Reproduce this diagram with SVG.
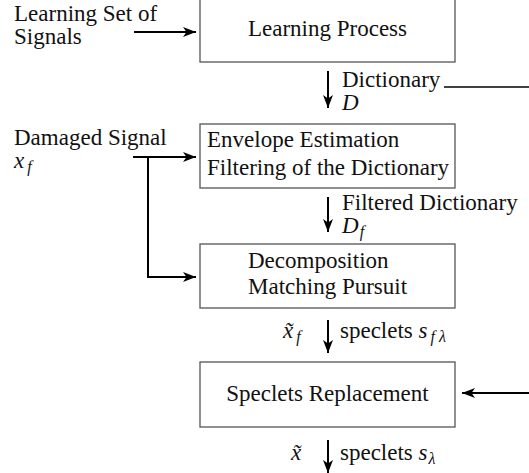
<svg xmlns="http://www.w3.org/2000/svg" width="529" height="473" viewBox="0 0 529 473">
<style>
text{font-family:"Liberation Serif","DejaVu Serif",serif;font-size:23px;fill:#111}
.it{font-style:italic}
.sub{font-size:16px;font-style:italic}
.box{fill:#fff;stroke:#555;stroke-width:1.3}
.ln{fill:none;stroke:#000;stroke-width:2}
</style>
<defs>
<marker id="ah" markerUnits="userSpaceOnUse" markerWidth="14" markerHeight="10" refX="13" refY="5" orient="auto">
<path d="M0,0 L13,5 L0,10 L3.5,5 Z" fill="#000"/>
</marker>
</defs>
<rect width="529" height="473" fill="#fff"/>
<g id="connectors">
<line class="ln" x1="134" y1="32" x2="196" y2="32" marker-end="url(#ah)"/>
<line class="ln" x1="328" y1="71" x2="328" y2="108" marker-end="url(#ah)"/>
<line x1="444" y1="87" x2="529" y2="87" stroke="#000" stroke-width="1.6"/>
<line class="ln" x1="133" y1="157" x2="196" y2="157" marker-end="url(#ah)"/>
<polyline class="ln" points="148,157 148,277 196,277" marker-end="url(#ah)"/>
<line class="ln" x1="328" y1="197" x2="328" y2="232" marker-end="url(#ah)"/>
<line class="ln" x1="328" y1="320" x2="328" y2="353" marker-end="url(#ah)"/>
<line class="ln" x1="529" y1="393" x2="462" y2="393" marker-end="url(#ah)"/>
<line class="ln" x1="328" y1="440" x2="328" y2="473" marker-end="url(#ah)"/>
</g>
<g id="input-learning">
<text x="14" y="21">Learning Set of</text>
<text x="14" y="44">Signals</text>
</g>
<g id="learning-process">
<rect class="box" x="200" y="-2" width="255" height="64"/>
<text x="327.5" y="36" text-anchor="middle">Learning Process</text>
</g>
<g id="dictionary-label">
<text x="342" y="87" font-size="22">Dictionary</text>
<text x="342" y="110" class="it">D</text>
</g>
<g id="input-damaged">
<text x="14" y="145">Damaged Signal</text>
<text x="14" y="168" class="it">x<tspan class="sub" dx="3" dy="4">f</tspan></text>
</g>
<g id="envelope">
<rect class="box" x="200" y="124" width="255" height="64"/>
<text x="207" y="147">Envelope Estimation</text>
<text x="207" y="175">Filtering of the Dictionary</text>
</g>
<g id="filtered-label">
<text x="342" y="210">Filtered Dictionary</text>
<text x="342" y="233" class="it">D<tspan class="sub" dx="1" dy="4">f</tspan></text>
</g>
<g id="decomposition">
<rect class="box" x="200" y="244" width="255" height="64"/>
<text x="248" y="268">Decomposition</text>
<text x="248" y="294">Matching Pursuit</text>
</g>
<g id="xf-label">
<text x="283" y="338" class="it">x̃<tspan class="sub" dx="3" dy="4">f</tspan></text>
<text x="340" y="338">speclets <tspan class="it">s</tspan><tspan class="sub" dx="3" dy="4">f λ</tspan></text>
</g>
<g id="speclets-replacement">
<rect class="box" x="200" y="362" width="255" height="65"/>
<text x="327.5" y="401" text-anchor="middle">Speclets Replacement</text>
</g>
<g id="x-label">
<text x="291" y="460" class="it">x̃</text>
<text x="340" y="460">speclets <tspan class="it">s</tspan><tspan class="sub" dx="1" dy="4">λ</tspan></text>
</g>
</svg>
